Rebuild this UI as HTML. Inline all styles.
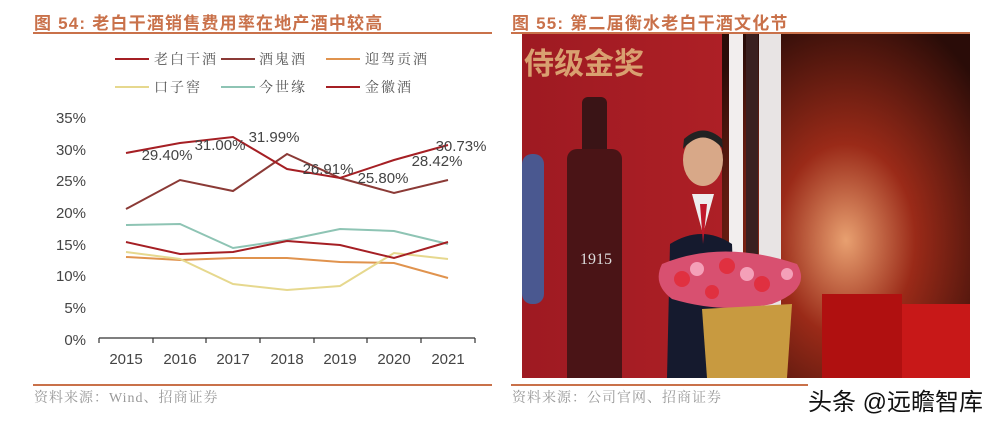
<!DOCTYPE html>
<html><head><meta charset="utf-8"><style>
body{margin:0;width:1006px;height:424px;background:#fff;overflow:hidden;position:relative;font-family:"Liberation Sans","Noto Sans CJK SC",sans-serif}
.t{position:absolute;font-weight:bold;color:#c9714a;font-size:17px;top:9px;letter-spacing:1.2px}
.src{position:absolute;top:387px;color:#999;font-size:14px;font-family:"Liberation Serif","Noto Serif CJK SC",serif;letter-spacing:1px}
</style></head><body>
<div class="t" style="left:34px">图 54:&nbsp;老白干酒销售费用率在地产酒中较高</div>
<div class="t" style="left:512px">图 55:&nbsp;第二届衡水老白干酒文化节</div>
<div style="position:absolute;left:33px;top:32px;width:459px;height:2px;background:#c9714a"></div>
<div style="position:absolute;left:511px;top:32px;width:459px;height:2px;background:#c9714a"></div>
<div style="position:absolute;left:33px;top:384px;width:459px;height:2px;background:#c9714a"></div>
<div style="position:absolute;left:511px;top:384px;width:459px;height:2px;background:#c9714a"></div>
<div class="src" style="left:34px">资料来源：Wind、招商证券</div>
<div class="src" style="left:512px">资料来源：公司官网、招商证券</div>
<svg style="position:absolute;left:0;top:0" width="500" height="384" font-family="Liberation Sans, Noto Sans CJK SC, sans-serif">
<g font-size="14" fill="#555" font-family="Liberation Serif, Noto Serif CJK SC, serif" letter-spacing="2">
<line x1="115" y1="59" x2="149" y2="59" stroke="#a51f24" stroke-width="2"/><text x="154" y="64">老白干酒</text>
<line x1="221" y1="59" x2="255" y2="59" stroke="#8b3a36" stroke-width="2"/><text x="259" y="64">酒鬼酒</text>
<line x1="326" y1="59" x2="360" y2="59" stroke="#e0934e" stroke-width="2"/><text x="365" y="64">迎驾贡酒</text>
<line x1="115" y1="87" x2="149" y2="87" stroke="#e6d88e" stroke-width="2"/><text x="154" y="92">口子窖</text>
<line x1="221" y1="87" x2="255" y2="87" stroke="#8ec4b4" stroke-width="2"/><text x="259" y="92">今世缘</text>
<line x1="326" y1="87" x2="360" y2="87" stroke="#a51f24" stroke-width="2"/><text x="365" y="92">金徽酒</text>
</g>
<g font-size="15" fill="#444" text-anchor="end">
<text x="86" y="123">35%</text><text x="86" y="155">30%</text><text x="86" y="186">25%</text><text x="86" y="218">20%</text><text x="86" y="250">15%</text><text x="86" y="281">10%</text><text x="86" y="313">5%</text><text x="86" y="345">0%</text>
</g>
<g stroke="#333" stroke-width="1.2"><line x1="99" y1="338" x2="475" y2="338"/>
<line x1="99" y1="338" x2="99" y2="343"/><line x1="153" y1="338" x2="153" y2="343"/><line x1="206" y1="338" x2="206" y2="343"/><line x1="260" y1="338" x2="260" y2="343"/><line x1="314" y1="338" x2="314" y2="343"/><line x1="367" y1="338" x2="367" y2="343"/><line x1="421" y1="338" x2="421" y2="343"/><line x1="475" y1="338" x2="475" y2="343"/></g>
<g font-size="15" fill="#444" text-anchor="middle">
<text x="126" y="364">2015</text><text x="180" y="364">2016</text><text x="233" y="364">2017</text><text x="287" y="364">2018</text><text x="340" y="364">2019</text><text x="394" y="364">2020</text><text x="448" y="364">2021</text></g>
<g fill="none" stroke-width="2">
<polyline stroke="#e0934e" points="126,257 180,260 233,258 287,258 340,262 394,263 448,278"/>
<polyline stroke="#e6d88e" points="126,252 180,259 233,284 287,290 340,286 394,253 448,259"/>
<polyline stroke="#8ec4b4" points="126,225 180,224 233,248 287,240 340,229 394,231 448,244"/>
<polyline stroke="#a51f24" points="126,242 180,254 233,252 287,241 340,245 394,258 448,242"/>
<polyline stroke="#8b3a36" points="126,209 180,180 233,191 287,154 340,178 394,193 448,180"/>
<polyline stroke="#a51f24" points="126,153 180,143 233,137 287,169 340,178 394,160 448,145"/>
</g>
<g font-size="15" fill="#444" text-anchor="middle">
<text x="167" y="160">29.40%</text><text x="220" y="150">31.00%</text><text x="274" y="142">31.99%</text><text x="328" y="174">26.91%</text><text x="383" y="183">25.80%</text><text x="437" y="166">28.42%</text><text x="461" y="151">30.73%</text></g>
</svg>
<svg style="position:absolute;left:522px;top:34px" width="448" height="344">
<defs>
<radialGradient id="g1" cx="0.5" cy="0.6" r="0.7"><stop offset="0" stop-color="#e8a070"/><stop offset="0.4" stop-color="#9a2a18"/><stop offset="1" stop-color="#2a0c08"/></radialGradient>
<linearGradient id="g2" x1="0" y1="0" x2="1" y2="0"><stop offset="0" stop-color="#9e1a22"/><stop offset="1" stop-color="#c0262a"/></linearGradient>
</defs>
<rect width="448" height="344" fill="url(#g2)"/>
<rect x="200" width="248" height="344" fill="url(#g1)"/>
<rect x="207" width="14" height="344" fill="#f2eeee"/>
<rect x="237" width="22" height="344" fill="#e8e4e4"/>
<rect x="224" width="12" height="344" fill="#3a2020"/>
<text x="2" y="40" font-size="30" font-weight="bold" fill="#d9a070" font-family="Noto Sans CJK SC,sans-serif">侍级金奖</text>
<rect x="60" y="63" width="25" height="60" rx="6" fill="#3a1416"/>
<rect x="45" y="115" width="55" height="240" rx="10" fill="#4a1416"/>
<text x="58" y="230" font-size="16" fill="#ddd" font-family="Liberation Serif,serif">1915</text>
<rect x="0" y="120" width="22" height="150" rx="10" fill="#4a5890"/>
<rect x="380" y="270" width="68" height="74" fill="#c81818"/>
<rect x="300" y="260" width="80" height="84" fill="#b01010"/>
<path d="M148 210 Q180 190 210 210 L215 344 L145 344 Z" fill="#151a2e"/>
<ellipse cx="181" cy="126" rx="20" ry="26" fill="#d8a888"/>
<path d="M161 115 Q181 92 201 115 L200 105 Q181 88 162 105 Z" fill="#222"/>
<path d="M170 160 L181 200 L192 160 Z" fill="#eee"/><path d="M178 170 L181 210 L185 170 Z" fill="#c0182a"/>
<path d="M140 230 Q200 205 275 230 Q290 255 250 270 Q200 280 150 265 Q130 250 140 230Z" fill="#d85070"/>
<g fill="#e03040"><circle cx="160" cy="245" r="8"/><circle cx="205" cy="232" r="8"/><circle cx="240" cy="250" r="8"/><circle cx="190" cy="258" r="7"/></g>
<g fill="#f4a0b8"><circle cx="175" cy="235" r="7"/><circle cx="225" cy="240" r="7"/><circle cx="265" cy="240" r="6"/></g>
<path d="M180 275 L270 270 L265 344 L185 344 Z" fill="#c89a40"/>
</svg>
<div style="position:absolute;left:808px;top:382px;width:190px;height:32px;background:#fff;font-size:24px;color:#111;font-family:'Liberation Sans','Noto Sans CJK SC',sans-serif;white-space:nowrap">头条 @远瞻智库</div>
</body></html>
